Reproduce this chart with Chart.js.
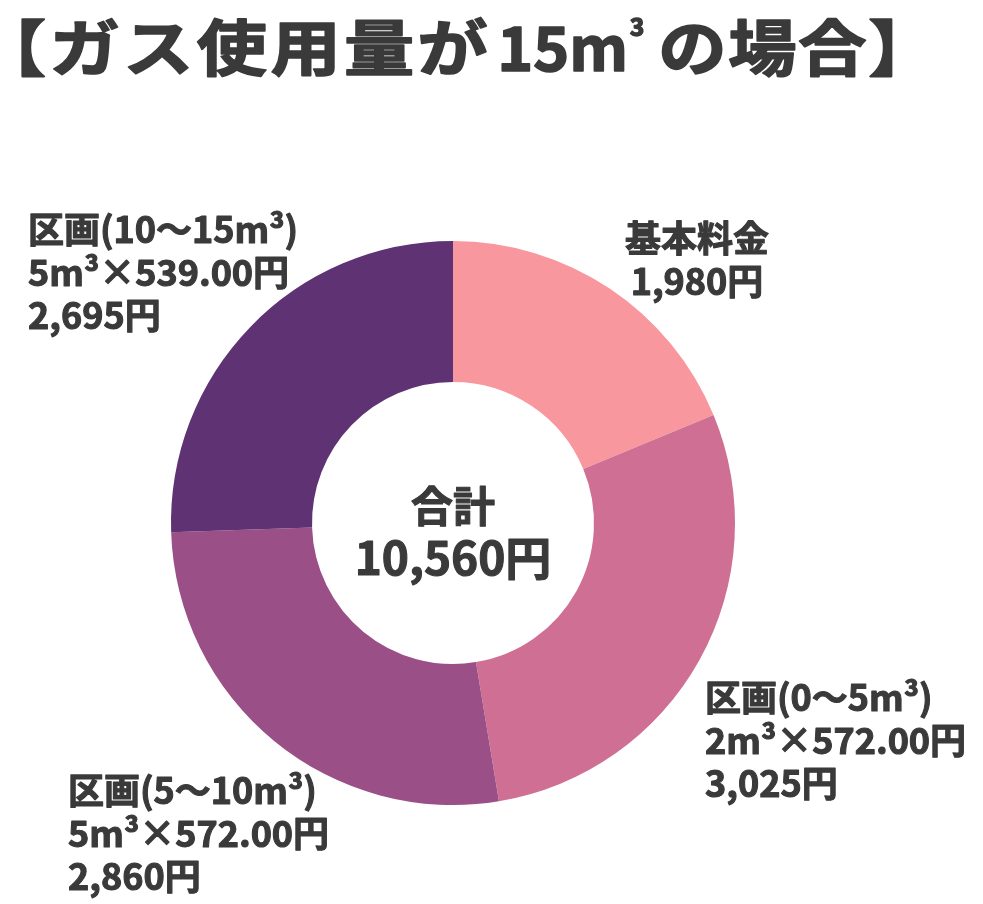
<!DOCTYPE html>
<html>
<head>
<meta charset="utf-8">
<script src="https://cdn.jsdelivr.net/npm/chart.js@4.4.0/dist/chart.umd.min.js"></script>
<style>
  body { margin: 0; background: #fff; }
  #wrap { width: 983px; height: 904px; position: relative; }
</style>
</head>
<body>
<div id="wrap"><canvas id="gas-chart" width="983" height="904"></canvas></div>
<script>
// data
var sliceNames = ['基本料金', '区画(0～5m³)', '区画(5～10m³)', '区画(10～15m³)'];
var sliceDetails = ['', '2m³×572.00円', '5m³×572.00円', '5m³×539.00円'];
var sliceValues = [1980, 3025, 2860, 2695];
var sliceColors = ['#F8979E', '#CF6F93', '#9B4F87', '#5E3273'];

var textColor = '#3a3a3a';
var fontName = "'Noto Sans CJK JP', 'Noto Sans', sans-serif";

function yen(v) {
    return v.toLocaleString('en-US') + '円';
}

// where each label block goes: x, y of first line, alignment
var labelPos = [
    { x: 697, y: 238, align: 'center' },
    { x: 705, y: 697, align: 'left' },
    { x: 68, y: 790, align: 'left' },
    { x: 28, y: 229, align: 'left' }
];

// fill + thin stroke so the text looks as heavy as the original
function heavyText(ctx, str, x, y) {
    ctx.fillText(str, x, y);
    ctx.strokeText(str, x, y);
}

// draws a piece of the title stretched a bit wider, returns its end x
function wideText(ctx, str, x, y, sx) {
    ctx.save();
    ctx.translate(x, y);
    ctx.scale(sx, 1);
    heavyText(ctx, str, 0, 0);
    var w = ctx.measureText(str).width * sx;
    ctx.restore();
    return x + w;
}

var textPlugin = {
    id: 'gasText',
    afterDraw: function (chart) {
        var ctx = chart.ctx;
        ctx.save();
        ctx.fillStyle = textColor;
        ctx.strokeStyle = textColor;
        ctx.lineJoin = 'round';
        ctx.textBaseline = 'middle';

        // title
        ctx.textAlign = 'left';
        ctx.lineWidth = 1.6;
        ctx.font = 'bold 61px ' + fontName;
        ctx.letterSpacing = '3px';
        var ty = 48;
        var x = wideText(ctx, '【ガス使用量が', -24, ty, 1.15);
        ctx.letterSpacing = '0px';
        x = wideText(ctx, '15m', x + 6, ty, 1.0);
        ctx.font = 'bold 24px ' + fontName;
        x = wideText(ctx, '3', x + 2, 27, 1.0);
        ctx.font = 'bold 61px ' + fontName;
        ctx.letterSpacing = '1.5px';
        wideText(ctx, 'の場合】', x + 14, ty, 1.12);
        ctx.letterSpacing = '0px';

        // slice labels
        ctx.lineWidth = 1.1;
        ctx.font = 'bold 36px ' + fontName;
        for (var i = 0; i < sliceValues.length; i++) {
            var lines = [sliceNames[i]];
            if (sliceDetails[i]) lines.push(sliceDetails[i]);
            lines.push(yen(sliceValues[i]));
            ctx.textAlign = labelPos[i].align;
            for (var j = 0; j < lines.length; j++) {
                heavyText(ctx, lines[j], labelPos[i].x, labelPos[i].y + j * 43);
            }
        }

        // center total
        var total = sliceValues.reduce(function (a, b) { return a + b; }, 0);
        var c = chart.getDatasetMeta(0).data[0];
        ctx.textAlign = 'center';
        ctx.font = 'bold 42px ' + fontName;
        heavyText(ctx, '合計', c.x, c.y - 17);
        ctx.font = 'bold 46px ' + fontName;
        heavyText(ctx, yen(total), c.x, c.y + 35);
        ctx.restore();
    }
};

var ctx = document.getElementById('gas-chart').getContext('2d');
var gasChart = new Chart(ctx, {
    type: 'doughnut',
    data: {
        labels: sliceNames,
        datasets: [{
            data: sliceValues,
            backgroundColor: sliceColors,
            borderWidth: 0
        }]
    },
    options: {
        responsive: false,
        animation: false,
        cutout: '50%',
        layout: {
            padding: { left: 171, right: 248, top: 241, bottom: 99 }
        },
        plugins: {
            legend: { display: false },
            tooltip: { enabled: false }
        }
    },
    plugins: [textPlugin]
});
</script>
</body>
</html>
